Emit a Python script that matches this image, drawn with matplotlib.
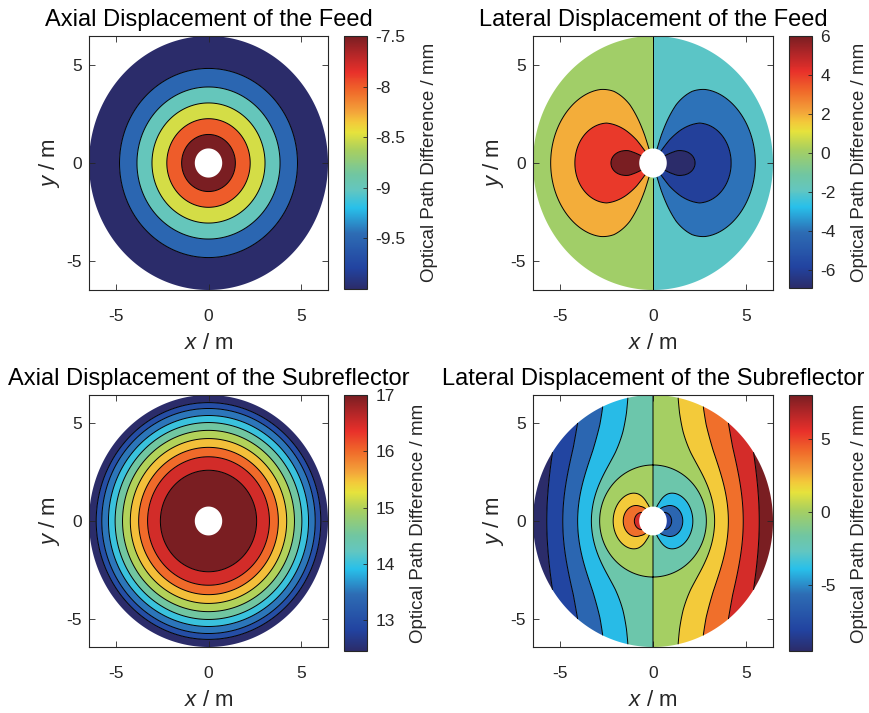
import numpy as np
import matplotlib
matplotlib.use('Agg')
import matplotlib.pyplot as plt
from matplotlib.colors import LinearSegmentedColormap, Normalize
from matplotlib.cm import ScalarMappable

plt.rcParams['font.family'] = ['Liberation Sans', 'DejaVu Sans']
plt.rcParams['axes.unicode_minus'] = False
plt.rcParams['mathtext.fontset'] = 'custom'
plt.rcParams['mathtext.it'] = 'Liberation Sans:italic'
plt.rcParams['mathtext.rm'] = 'Liberation Sans'
plt.rcParams['contour.negative_linestyle'] = 'solid'

# dish geometry (m)
r_dish = 6.45
r_hole = 0.74

# axial displacement of the feed: contour ring radius (m) -> OPD (mm)
feed_ax_r = [0.74, 1.45, 2.25, 3.05, 3.86, 4.80, 6.45]
feed_ax_opd = [-7.1, -7.5, -8.0, -8.5, -9.0, -9.5, -10.0]
feed_ax_levels = [-9.5, -9.0, -8.5, -8.0, -7.5]
feed_ax_ticks = [-9.5, -9, -8.5, -8, -7.5]
feed_ax_ticklabels = ['-9.5', '-9', '-8.5', '-8', '-7.5']

# lateral displacement of the feed: OPD amplitude along the x axis (left side)
feed_lat_r = [0.74, 1.45, 2.26, 3.22, 4.20, 4.67, 5.50, 6.45]
feed_lat_amp = [6.94, 6.65, 6.0, 5.15, 4.0, 3.33, 2.0, 0.5]
feed_lat_levels = [-6, -4, -2, 0, 2, 4, 6]
feed_lat_ticks = [-6, -4, -2, 0, 2, 4, 6]

# axial displacement of the subreflector
sub_ax_r = [0.74, 2.60, 3.29, 3.77, 4.22, 4.64, 5.04, 5.40, 5.76, 6.06, 6.45]
sub_ax_opd = [17.85, 17.0, 16.5, 16.0, 15.5, 15.0, 14.5, 14.0, 13.5, 13.0, 12.45]
sub_ax_levels = [13, 13.5, 14, 14.5, 15, 15.5, 16, 16.5, 17]
sub_ax_ticks = [13, 14, 15, 16, 17]

# lateral displacement of the subreflector: OPD along the +x axis
sub_lat_r = [0.74, 1.0, 1.6, 2.14, 2.87, 3.31, 4.05, 4.85, 5.71, 6.45]
sub_lat_amp = [-7.5, -6, -4, -2, 0, 2, 4, 6, 8, 9.55]
sub_lat_levels = [-8, -6, -4, -2, 0, 2, 4, 6, 8]
sub_lat_ticks = [-5, 0, 5]

titles = ['Axial Displacement of the Feed', 'Lateral Displacement of the Feed',
          'Axial Displacement of the Subreflector', 'Lateral Displacement of the Subreflector']

cmap = LinearSegmentedColormap.from_list('jet_print', [
    (0.00, '#2b2c6a'), (0.08, '#2243a0'), (0.22, '#2d6cb4'), (0.32, '#28c0ea'),
    (0.39, '#63c6c0'), (0.45, '#70c6a2'), (0.55, '#a8cf60'), (0.62, '#e6e23c'),
    (0.66, '#f3c93a'), (0.70, '#f3a43a'), (0.78, '#f06a2a'), (0.86, '#e8302a'),
    (0.93, '#b42628'), (1.00, '#7a1e22')])

# polar grid over the aperture
r = np.linspace(r_hole, r_dish, 300)
phi = np.linspace(0, 2 * np.pi, 722)
R, PHI = np.meshgrid(r, phi)
X = R * np.cos(PHI)
Y = R * np.sin(PHI)

Z1 = np.interp(R, feed_ax_r, feed_ax_opd)
Z2 = -np.cos(PHI) * np.interp(R, feed_lat_r, feed_lat_amp)
Z3 = np.interp(R, sub_ax_r, sub_ax_opd)
Z4 = np.cos(PHI) * np.interp(R, sub_lat_r, sub_lat_amp)

fig = plt.figure(figsize=(8.69, 7.13), dpi=100)
W, H = 869, 713


def px_axes(x0, y0, x1, y1):
    return fig.add_axes([x0 / W, 1 - y1 / H, (x1 - x0) / W, (y1 - y0) / H])


panels = [
    (Z1, feed_ax_levels, feed_ax_ticks, feed_ax_ticklabels, (89, 36, 328, 290), (344, 36, 367, 289)),
    (Z2, feed_lat_levels, feed_lat_ticks, None, (533, 36, 773, 290), (789, 36, 812, 288)),
    (Z3, sub_ax_levels, sub_ax_ticks, None, (89, 395, 328, 647), (344, 395, 367, 651)),
    (Z4, sub_lat_levels, sub_lat_ticks, None, (533, 395, 773, 647), (789, 395, 812, 651)),
]

frame = '#262626'
for (Z, levels, ticks, ticklabels, abox, cbox), title in zip(panels, titles):
    ax = px_axes(*abox)
    cax = px_axes(*cbox)
    zmin, zmax = Z.min(), Z.max()
    norm = Normalize(zmin, levels[-1])
    # MATLAB-style fill: each band coloured by its lower level
    bounds = [zmin - 1] + list(levels) + [zmax + 1]
    cols = [cmap(0.0)] + [cmap(norm(l)) for l in levels]
    ax.contourf(X, Y, Z, levels=bounds, colors=cols, antialiased=True)
    ax.contour(X, Y, Z, levels=levels, colors='k', linewidths=0.7, linestyles='solid')
    ax.set_xlim(-r_dish, r_dish)
    ax.set_ylim(-r_dish, r_dish)
    ax.set_xticks([-5, 0, 5])
    ax.set_yticks([-5, 0, 5])
    ax.tick_params(direction='in', length=4, width=0.6, top=True, right=True,
                   labelsize=12.5, colors=frame, labelcolor=frame)
    ax.tick_params(axis='x', pad=14)
    ax.tick_params(axis='y', pad=5)
    for s in ax.spines.values():
        s.set_color(frame)
        s.set_linewidth(0.8)
    ax.set_xlabel(r'$x$ / m', fontsize=16, color=frame, labelpad=6)
    ax.set_ylabel(r'$y$ / m', fontsize=16, color=frame, labelpad=3)
    ax.set_title(title, fontsize=17, pad=7)

    cb = fig.colorbar(ScalarMappable(norm=norm, cmap=cmap), cax=cax)
    cb.set_ticks(ticks)
    if ticklabels is not None:
        cb.set_ticklabels(ticklabels)
    cb.outline.set_edgecolor(frame)
    cb.outline.set_linewidth(0.8)
    cax.tick_params(direction='in', length=3, width=0.6, labelsize=12.5,
                    colors=frame, labelcolor=frame, pad=6)
    cax.set_ylabel('Optical Path Difference / mm', fontsize=13.5, color=frame, labelpad=11)

fig.savefig('out.png', dpi=100)
